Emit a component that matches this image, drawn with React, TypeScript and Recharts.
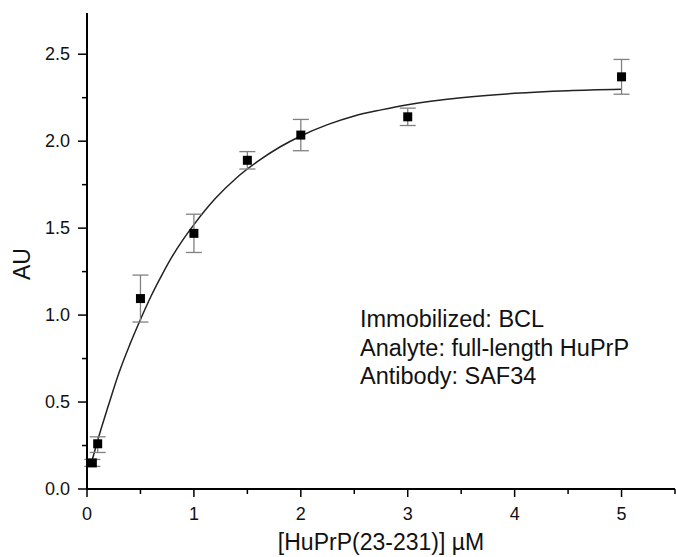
import React from 'react';
import { ComposedChart, Line, Scatter, XAxis, YAxis, ErrorBar } from 'recharts';

// Measured data points
const concX = [0.05, 0.1, 0.5, 1, 1.5, 2, 3, 5];
const auY = [0.15, 0.26, 1.095, 1.47, 1.89, 2.035, 2.14, 2.37];
const errLow = [0.02, 0.05, 0.135, 0.11, 0.05, 0.09, 0.05, 0.1];
const errHigh = [0.02, 0.04, 0.135, 0.11, 0.05, 0.09, 0.05, 0.1];

// Fitted curve
const fitX = [0.05, 0.1, 0.2, 0.3, 0.4, 0.5, 0.6, 0.7, 0.8, 0.9, 1.0, 1.2, 1.4, 1.6, 1.8, 2.0, 2.25, 2.5, 2.75, 3.0, 3.5, 4.0, 4.5, 5.0];
const fitY = [0.17, 0.28, 0.48, 0.67, 0.83, 0.975, 1.11, 1.23, 1.34, 1.435, 1.52, 1.67, 1.79, 1.885, 1.965, 2.03, 2.095, 2.145, 2.18, 2.21, 2.25, 2.275, 2.29, 2.298];

const xTicks = [0, 0.5, 1, 1.5, 2, 2.5, 3, 3.5, 4, 4.5, 5, 5.5];
const yTicks = [0, 0.25, 0.5, 0.75, 1, 1.25, 1.5, 1.75, 2, 2.25, 2.5];

const annotationLines = ['Immobilized: BCL', 'Analyte: full-length HuPrP', 'Antibody: SAF34'];
const xLabel = '[HuPrP(23-231)] \u00B5M';
const yLabel = 'AU';

const points = concX.map((x, i) => ({ x, y: auY[i], err: [errLow[i], errHigh[i]] }));
const fitData = fitX.map((x, i) => ({ x, y: fitY[i] }));

const FONT = '"Liberation Sans", Arial, sans-serif';

const YTick = (props: any) => {
  const { x, y, payload } = props;
  const v = payload.value;
  const major = Math.abs(v * 2 - Math.round(v * 2)) < 1e-6;
  return (
    <g>
      <line x1={x - (major ? 9 : 5)} x2={x} y1={y} y2={y} stroke="#000" strokeWidth={1.5} />
      {major && (
        <text x={x - 17} y={y} dy={6} textAnchor="end" fontSize={18} fill="#111" fontFamily={FONT}>
          {v.toFixed(1)}
        </text>
      )}
    </g>
  );
};

const XTick = (props: any) => {
  const { x, y, payload } = props;
  const v = payload.value;
  const major = Math.abs(v - Math.round(v)) < 1e-6;
  return (
    <g>
      <line x1={x} x2={x} y1={y} y2={y + (major ? 8 : 5)} stroke="#000" strokeWidth={1.5} />
      {major && (
        <text x={x} y={y + 31} textAnchor="middle" fontSize={18} fill="#111" fontFamily={FONT}>
          {String(v)}
        </text>
      )}
    </g>
  );
};

const Square = (p: any) => (
  <rect x={p.cx - 4.5} y={p.cy - 4.5} width={9} height={9} fill="#000" />
);

export default function App() {
  return (
    <div style={{ position: 'absolute', left: 0, top: 0, width: 676, height: 557, background: '#fff', fontFamily: FONT }}>
      <ComposedChart width={676} height={557} margin={{ top: 13, right: 1, left: 0, bottom: 0 }}>
        <XAxis
          type="number"
          dataKey="x"
          domain={[0, 5.5]}
          ticks={xTicks}
          interval={0}
          tickSize={0}
          tickMargin={0}
          tickLine={false}
          tick={<XTick />}
          height={68}
          axisLine={{ stroke: '#000', strokeWidth: 2 }}
          label={{
            content: (p: any) => {
              const vb = p.viewBox;
              return (
                <text x={vb.x + vb.width / 2} y={vb.y + 61} textAnchor="middle" fontSize={23} fill="#111" fontFamily={FONT}>
                  {xLabel}
                </text>
              );
            },
          }}
        />
        <YAxis
          type="number"
          dataKey="y"
          domain={[0, 2.737]}
          ticks={yTicks}
          interval={0}
          tickSize={0}
          tickMargin={0}
          tickLine={false}
          tick={<YTick />}
          width={87}
          axisLine={{ stroke: '#000', strokeWidth: 2 }}
          label={{
            content: (p: any) => {
              const vb = p.viewBox;
              const cx = vb.x + 30;
              const cy = vb.y + vb.height / 2 + 13;
              return (
                <text x={cx} y={cy} transform={`rotate(-90 ${cx} ${cy})`} textAnchor="middle" fontSize={23} fill="#111" fontFamily={FONT}>
                  {yLabel}
                </text>
              );
            },
          }}
        />
        <Line
          data={fitData}
          dataKey="y"
          type="monotone"
          stroke="#222"
          strokeWidth={1.5}
          dot={false}
          activeDot={false}
          isAnimationActive={false}
        />
        <Scatter data={points} dataKey="y" shape={<Square />} isAnimationActive={false}>
          <ErrorBar dataKey="err" direction="y" width={8} stroke="#808080" strokeWidth={1.3} />
        </Scatter>
      </ComposedChart>
      <div
        style={{
          position: 'absolute',
          left: 360,
          top: 305,
          fontSize: 23.5,
          lineHeight: '28.5px',
          color: '#111',
          fontFamily: FONT,
          whiteSpace: 'nowrap',
        }}
      >
        {annotationLines.map((t) => (
          <div key={t}>{t}</div>
        ))}
      </div>
    </div>
  );
}
